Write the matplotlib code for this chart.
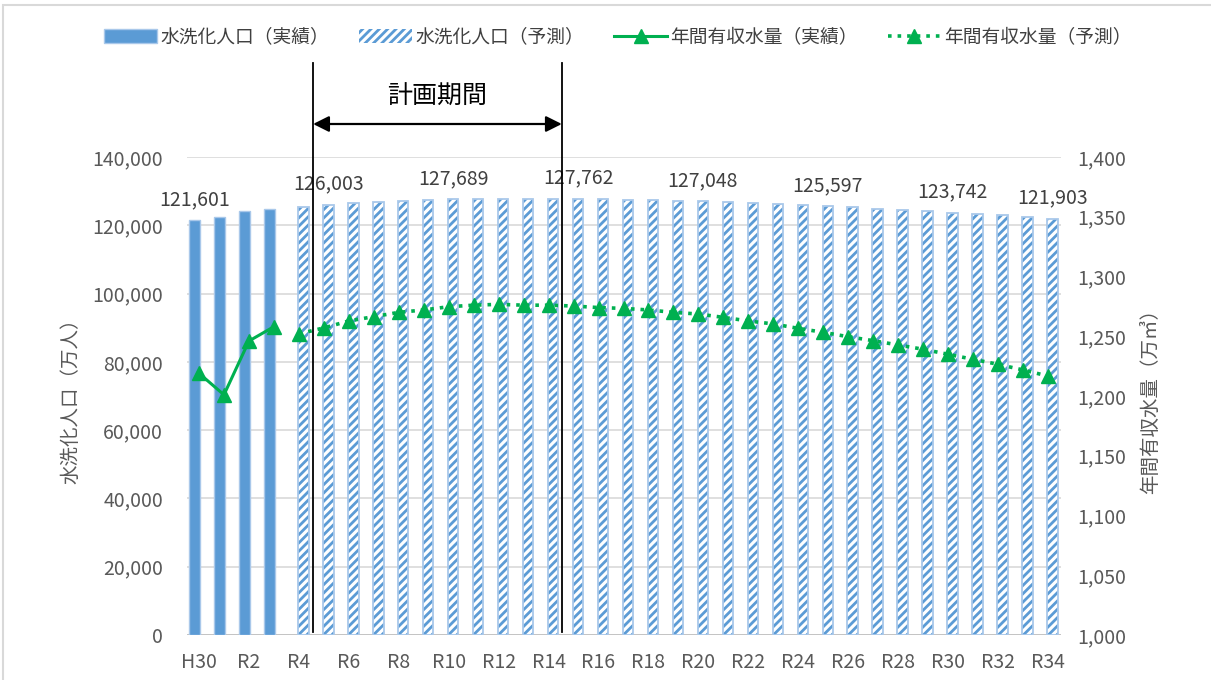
import matplotlib
matplotlib.use("Agg")
import matplotlib.pyplot as plt
import numpy as np
from matplotlib.patches import Patch, Rectangle
from matplotlib.lines import Line2D
from matplotlib.ticker import FuncFormatter

plt.rcParams['font.family'] = ['Noto Sans CJK JP', 'DejaVu Sans']
plt.rcParams['hatch.linewidth'] = 2.0

categories = ['H30', 'R1', 'R2', 'R3', 'R4', 'R5', 'R6', 'R7', 'R8', 'R9', 'R10',
              'R11', 'R12', 'R13', 'R14', 'R15', 'R16', 'R17', 'R18', 'R19', 'R20',
              'R21', 'R22', 'R23', 'R24', 'R25', 'R26', 'R27', 'R28', 'R29', 'R30',
              'R31', 'R32', 'R33', 'R34']
n_actual = 4

pop_actual = [121601, 122520, 124080, 124630]
pop_forecast = [125450, 126003, 126460, 126830, 127100, 127380, 127689, 127770,
                127800, 127810, 127790, 127762, 127640, 127530, 127420, 127250,
                127048, 126820, 126530, 126220, 125910, 125597, 125250, 124850,
                124480, 124110, 123742, 123380, 123000, 122460, 121903]

water_actual = [1219, 1201, 1246, 1258]
water_forecast = [1252, 1257, 1262.8, 1266.4, 1270, 1272, 1274.7, 1276, 1276.7,
                  1276, 1276, 1275.3, 1274, 1273.3, 1272, 1270, 1268.6, 1265.8,
                  1262.8, 1260.3, 1256.6, 1253.3, 1249.6, 1246.3, 1242.7, 1239.1,
                  1234.9, 1230.7, 1226.5, 1221.8, 1216.7]

label_actual_idx = [0]
label_forecast_idx = [5, 10, 15, 20, 25, 30, 34]

legend_labels = ['水洗化人口（実績）', '水洗化人口（予測）', '年間有収水量（実績）', '年間有収水量（予測）']
left_label = '水洗化人口（万人）'
right_label = '年間有収水量（万㎥）'
period_label = '計画期間'

BLUE = '#5B9BD5'
LIGHT = '#A9C8EA'
GREEN = '#00B050'
TICK = '#595959'
TXT = '#404040'

W, H = 1211, 680
fig = plt.figure(figsize=(W / 100, H / 100), dpi=100)
ax = fig.add_axes([186.5 / W, 1 - 635 / H, (1060.5 - 186.5) / W, (635 - 157) / H])
ax2 = ax.twinx()

x = np.arange(len(categories))
xa = x[:n_actual]
xf = x[n_actual:]
off = 0.18
bw = 0.42

ax.bar(xa - off, pop_actual, width=bw, color=BLUE, edgecolor=LIGHT, linewidth=1.0, zorder=2)
ax.bar(xf + off, pop_forecast, width=bw, color='white', edgecolor=BLUE, hatch='////',
       linewidth=0, zorder=2)
ax.bar(xf + off, pop_forecast, width=bw, fill=False, edgecolor=LIGHT, linewidth=1.3, zorder=3)

ax2.plot(xa, water_actual, color=GREEN, lw=2.2, marker='^', ms=10, zorder=4)
ax2.plot(xf, water_forecast, color=GREEN, lw=2.6, ls=':', marker='^', ms=10, zorder=4)

ax.set_xlim(-0.5, len(categories) - 0.5)
ax.set_ylim(0, 140000)
ax.set_yticks(np.arange(0, 140001, 20000))
ax2.set_ylim(1000, 1400)
ax2.set_yticks(np.arange(1000, 1401, 50))
fmt = FuncFormatter(lambda v, p: f'{int(v):,}')
ax.yaxis.set_major_formatter(fmt)
ax2.yaxis.set_major_formatter(fmt)
ax.set_xticks(x[::2])
ax.set_xticklabels(categories[::2])

for a in (ax, ax2):
    for s in ('left', 'right', 'top', 'bottom'):
        a.spines[s].set_visible(False)
    a.tick_params(length=0, labelsize=14, labelcolor=TICK)
ax.tick_params(axis='y', pad=17)
ax2.tick_params(axis='y', pad=12)
ax.tick_params(axis='x', pad=12)
ax.axhline(0, color='#BFBFBF', lw=1.2, zorder=1)
ax.grid(axis='y', color='#D9D9D9', lw=1.2, zorder=0)
ax.set_axisbelow(True)

ax.set_ylabel(left_label, fontsize=14, color=TICK, labelpad=8)
ax2.set_ylabel(right_label, fontsize=14, color=TICK, labelpad=10, rotation=90)

for i in label_actual_idx:
    ax.annotate(f'{pop_actual[i]:,}', (xa[i] - off, pop_actual[i]), xytext=(0, 15),
                textcoords='offset pixels', ha='center', va='baseline', fontsize=14, color=TXT)
for i in label_forecast_idx:
    j = i - n_actual
    ax.annotate(f'{pop_forecast[j]:,}', (xf[j] + off, pop_forecast[j]), xytext=(0, 15),
                textcoords='offset pixels', ha='center', va='baseline', fontsize=14, color=TXT)

# planning period markers
p0, p1 = 4.57, 14.53
y_bot = (635 - 632) / 478
y_top = (635 - 63) / 478
y_arr = (635 - 124) / 478
y_txt = (635 - 97) / 478
trans = ax.get_xaxis_transform()
for p in (p0, p1):
    ax.add_line(Line2D([p, p], [y_bot, y_top], transform=trans, color='black', lw=1.3,
                       clip_on=False, zorder=6))
ax.annotate('', xy=(p1, y_arr), xytext=(p0, y_arr), xycoords=trans, textcoords=trans,
            arrowprops=dict(arrowstyle='<|-|>', color='black', lw=1.6,
                            mutation_scale=24, shrinkA=0, shrinkB=0), zorder=6)
ax.text((p0 + p1) / 2, y_txt, period_label, transform=trans, ha='center', va='center',
        fontsize=18, color='black')

handles = [Patch(facecolor=BLUE, edgecolor=LIGHT, lw=1),
           Patch(facecolor='white', edgecolor=BLUE, hatch='////', lw=0),
           Line2D([], [], color=GREEN, lw=2.2, marker='^', ms=10),
           Line2D([], [], color=GREEN, lw=2.6, ls=':', marker='^', ms=10)]
fig.legend(handles, legend_labels, loc='center', bbox_to_anchor=(618 / W, 1 - 37 / H),
           ncol=4, frameon=False, fontsize=13.5, handlelength=2.8, handletextpad=0.2,
           columnspacing=1.6, labelcolor=TXT)

fig.patches.append(Rectangle((3 / W, -0.02), 1.0, 1 - 5 / H + 0.02, transform=fig.transFigure,
                             fill=False, edgecolor='#D9D9D9', lw=1.5))

fig.savefig('out.png', dpi=100)
